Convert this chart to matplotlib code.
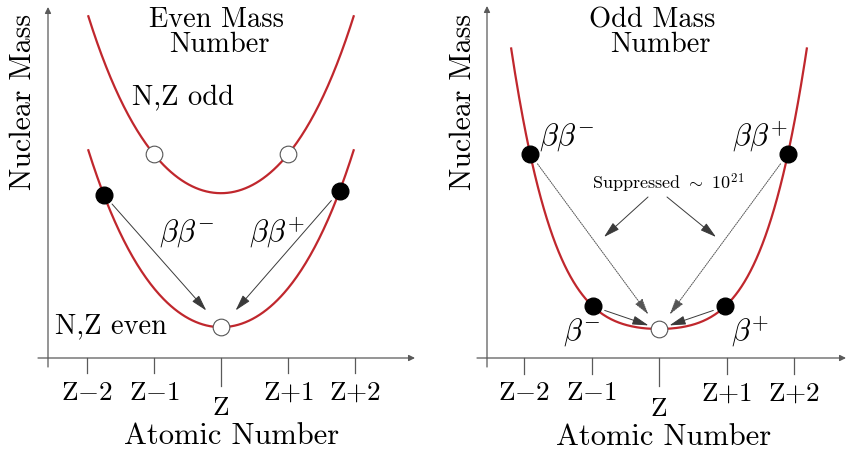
import matplotlib
matplotlib.use("Agg")
import matplotlib.pyplot as plt
import numpy as np

plt.rcParams['font.family'] = 'serif'
plt.rcParams['font.serif'] = ['cmr10', 'DejaVu Serif']
plt.rcParams['mathtext.fontset'] = 'cm'
plt.rcParams['axes.formatter.use_mathtext'] = True

# ---- data (Z offset from the stable isobar, mass in arbitrary units) ----
z_ticks = [-2, -1, 0, 1, 2]
z_labels = [r"Z$-$2", r"Z$-$1", "Z", r"Z$+$1", r"Z$+$2"]

# even mass number: two mass parabolas  M = M0 + c2 Z^2 + c4 Z^4
even_shape = (0.548, 0.032)
even_range = 1.98
even_min_eveneven = 0.46
even_min_oddodd = 2.46
even_dots_z = [-1.75, 1.77]          # filled nuclei on the N,Z even curve
even_odd_circles_z = [-1.0, 1.0]     # open nuclei on the N,Z odd curve
even_stable_z = 0.0

# odd mass number: one parabola
odd_shape = (0.219, 0.135)
odd_range = 2.19
odd_min = 0.43
odd_beta_z = [-0.98, 0.98]
odd_bb_z = [-1.91, 1.91]
odd_stable_z = 0.0

RED = '#c0272d'
GREY = '#5a5a5a'
W, H = 847.0, 452.0


def mass(z, m0, shape):
    z = np.asarray(z, dtype=float)
    return m0 + shape[0] * z ** 2 + shape[1] * z ** 4


class Panel(object):
    """Axes whose data units are Z steps, placed on a pixel grid."""
    def __init__(self, fig, left, right, x0, s, ybase=359):
        self.x0, self.s, self.ybase = x0, s, ybase
        self.ax = fig.add_axes([left / W, 0, (right - left) / W, 1])
        self.ax.set_xlim(self.dx(left), self.dx(right))
        self.ax.set_ylim(self.dy(H), self.dy(0))
        self.ax.axis('off')

    def dx(self, px):
        return (px - self.x0) / self.s

    def dy(self, py):
        return (self.ybase - py) / self.s

    def text(self, px, py, s, **kw):
        kw.setdefault('ha', 'center')
        kw.setdefault('va', 'center')
        self.ax.text(self.dx(px), self.dy(py), s, **kw)

    def frame(self, xa, xb, yx, ytop, ybot=368):
        axis_arrow = dict(arrowstyle='-|>', color=GREY, lw=0.9,
                          mutation_scale=9, shrinkA=0, shrinkB=0)
        self.ax.annotate('', xy=(self.dx(xb), 0), xytext=(self.dx(xa), 0),
                         arrowprops=axis_arrow)
        self.ax.annotate('', xy=(self.dx(yx), self.dy(ytop)),
                         xytext=(self.dx(yx), self.dy(ybot)), arrowprops=axis_arrow)
        for z, lab in zip(z_ticks, z_labels):
            length = 0.42 if z == 0 else 0.23
            self.ax.plot([z, z], [0, -length], color=GREY, lw=0.9)
            self.ax.text(z, -0.74 if z == 0 else -0.51, lab,
                         ha='center', va='center', fontsize=19.5)


def arrow(ax, start, end, sa, sb, ls='-', color='#3a3a3a'):
    ax.annotate('', xy=end, xytext=start,
                arrowprops=dict(arrowstyle='-|>,head_length=0.9,head_width=0.25',
                                color=color, lw=0.7, ls=ls,
                                mutation_scale=11, shrinkA=sa, shrinkB=sb))


def open_dot(ax, x, y):
    ax.plot(x, y, 'o', mfc='white', mec='#555555', mew=0.8, ms=12, zorder=5)


fig = plt.figure(figsize=(8.47, 4.52), dpi=100)

# ---------------- left: even mass number ----------------
p = Panel(fig, 0, 423, 221, 67.0)
ax = p.ax
p.frame(38, 415, 48, 8)

zz = np.linspace(-even_range, even_range, 300)
ax.plot(zz, mass(zz, even_min_oddodd, even_shape), color=RED, lw=1.6)
ax.plot(zz, mass(zz, even_min_eveneven, even_shape), color=RED, lw=1.6)

st = (even_stable_z, float(mass(even_stable_z, even_min_eveneven, even_shape)))
for z in even_dots_z:
    arrow(ax, (z, float(mass(z, even_min_eveneven, even_shape))), st, 9, 16)
ax.plot(even_dots_z, mass(even_dots_z, even_min_eveneven, even_shape), 'o',
        color='black', ms=12, zorder=5)
open_dot(ax, even_odd_circles_z, mass(even_odd_circles_z, even_min_oddodd, even_shape))
open_dot(ax, [st[0]], [st[1]])

p.text(216, 20, "Even Mass", fontsize=20.5)
p.text(219, 45, "Number", fontsize=20.5)
p.text(132, 97, "N,Z odd", ha='left', fontsize=20.5)
p.text(55, 326, "N,Z even", ha='left', fontsize=20.5)
p.text(187, 233, r"$\beta\beta^{-}$", fontsize=22)
p.text(277, 233, r"$\beta\beta^{+}$", fontsize=22)
p.text(23, 102, "Nuclear Mass", rotation=90, fontsize=21.5)
p.text(232, 436, "Atomic Number", fontsize=22)

# ---------------- right: odd mass number ----------------
p = Panel(fig, 423, 847, 659, 67.5)
ax = p.ax
p.frame(477, 846, 487, 7)

zz = np.linspace(-odd_range, odd_range, 300)
ax.plot(zz, mass(zz, odd_min, odd_shape), color=RED, lw=1.6)

st = (odd_stable_z, float(mass(odd_stable_z, odd_min, odd_shape)))
for z in odd_bb_z:
    arrow(ax, (z, float(mass(z, odd_min, odd_shape))), st, 9, 13,
          ls=(0, (1.2, 1.2)), color='#555555')
for z in odd_beta_z:
    arrow(ax, (z, float(mass(z, odd_min, odd_shape))), st, 9, 8)
# arrows from the "Suppressed" note towards the dotted lines
arrow(ax, (p.dx(648), p.dy(198)), (p.dx(604), p.dy(238)), 0, 0)
arrow(ax, (p.dx(667), p.dy(198)), (p.dx(716), p.dy(238)), 0, 0)

all_z = odd_beta_z + odd_bb_z
ax.plot(all_z, mass(all_z, odd_min, odd_shape), 'o', color='black', ms=12, zorder=5)
open_dot(ax, [st[0]], [st[1]])

p.text(652, 20, "Odd Mass", fontsize=20.5)
p.text(660, 45, "Number", fontsize=20.5)
p.text(567, 137, r"$\beta\beta^{-}$", fontsize=22)
p.text(760, 137, r"$\beta\beta^{+}$", fontsize=22)
p.text(582, 332, r"$\beta^{-}$", fontsize=22)
p.text(750, 332, r"$\beta^{+}$", fontsize=22)
p.text(668, 183, r"Suppressed $\sim$ $10^{21}$", fontsize=13)
p.text(463, 102, "Nuclear Mass", rotation=90, fontsize=21.5)
p.text(664, 437, "Atomic Number", fontsize=22)

fig.savefig('out.png', dpi=100)
